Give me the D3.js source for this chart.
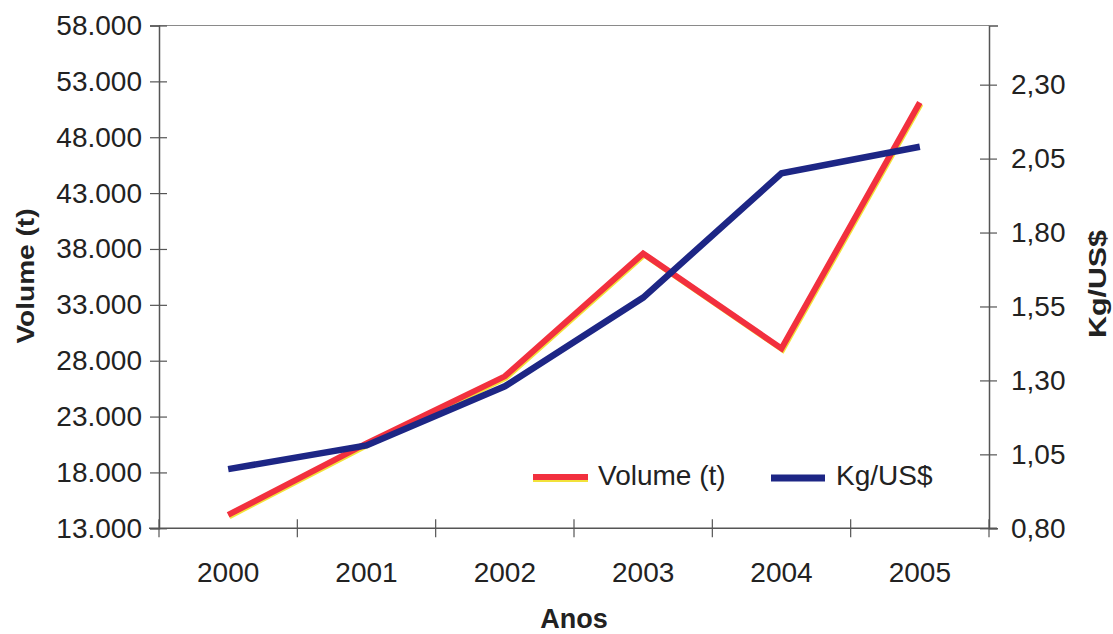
<!DOCTYPE html>
<html>
<head>
<meta charset="utf-8">
<script src="https://cdn.jsdelivr.net/npm/d3@7"></script>
<style>
  html, body { margin: 0; padding: 0; background: #fff; }
  svg { display: block; }
  text { font-family: "Liberation Sans", Arial, sans-serif; fill: #222; }
</style>
</head>
<body>
<svg id="chart" width="1113" height="634"></svg>
<script>
const years = ["2000", "2001", "2002", "2003", "2004", "2005"];
const volume = [14200, 20600, 26600, 37600, 29100, 51100];
const kgPerUsd = [1.00, 1.08, 1.28, 1.58, 2.00, 2.09];
const leftTicks = [13000, 18000, 23000, 28000, 33000, 38000, 43000, 48000, 53000, 58000];
const leftTickLabels = ["13.000", "18.000", "23.000", "28.000", "33.000", "38.000", "43.000", "48.000", "53.000", "58.000"];
const rightTicks = [0.80, 1.05, 1.30, 1.55, 1.80, 2.05, 2.30];
const rightTickLabels = ["0,80", "1,05", "1,30", "1,55", "1,80", "2,05", "2,30"];
const seriesNames = ["Volume (t)", "Kg/US$"];

const svg = d3.select("#chart");
const L = 159, R = 989, T = 25.5, B = 528.3;
const axisColor = "#555";

const x = d3.scaleBand().domain(years).range([L, R]);
const yL = d3.scaleLinear().domain([13000, 58000]).range([B, T]);
const yR = d3.scaleLinear().domain([0.80, 2.50]).range([B, T]);

// top border
svg.append("line").attr("x1", L).attr("x2", R).attr("y1", T).attr("y2", T)
  .attr("stroke", "#8a8a8a").attr("stroke-width", 1.2);

// left axis
const gL = svg.append("g").attr("transform", `translate(${L},0)`)
  .call(d3.axisLeft(yL).tickValues(leftTicks).tickSize(9).tickPadding(8)
    .tickFormat((d, i) => leftTickLabels[i]));
gL.select(".domain").attr("stroke", axisColor).attr("stroke-width", 1.5);
gL.selectAll(".tick line").attr("x1", 8).attr("x2", -9).attr("stroke", axisColor).attr("stroke-width", 1.2);
gL.selectAll(".tick text").style("font-size", "28px").attr("x", -17).attr("fill", "#222")
  .style("font-family", "Liberation Sans, Arial, sans-serif");

// right axis
const gR = svg.append("g").attr("transform", `translate(${R},0)`)
  .call(d3.axisRight(yR).tickValues(rightTicks).tickSize(9)
    .tickFormat((d, i) => rightTickLabels[i]));
gR.select(".domain").attr("stroke", axisColor).attr("stroke-width", 1.5);
gR.selectAll(".tick line").attr("x1", -9).attr("x2", 8).attr("stroke", axisColor).attr("stroke-width", 1.2);
gR.selectAll(".tick text").style("font-size", "28px").attr("x", 22).attr("fill", "#222")
  .style("font-family", "Liberation Sans, Arial, sans-serif");

// bottom axis
const gB = svg.append("g").attr("transform", `translate(0,${B})`)
  .call(d3.axisBottom(x).tickSize(0).tickPadding(0));
gB.select(".domain").attr("stroke", axisColor).attr("stroke-width", 1.5)
  .attr("d", `M${L - 10},0H${R + 8}`);
gB.selectAll(".tick text").style("font-size", "28px").attr("y", 54).attr("dy", null).attr("fill", "#222")
  .style("font-family", "Liberation Sans, Arial, sans-serif");
// boundary ticks between categories
const bounds = years.map(y => x(y)).concat([x(years[years.length - 1]) + x.bandwidth()]);
svg.append("g").selectAll("line").data(bounds).join("line")
  .attr("x1", d => d).attr("x2", d => d).attr("y1", B - 9).attr("y2", B + 9)
  .attr("stroke", axisColor).attr("stroke-width", 1.2);

// lines
const cx = d => x(d) + x.bandwidth() / 2;
const lineVol = d3.line().x((d, i) => cx(years[i])).y(d => yL(d));
const lineKg = d3.line().x((d, i) => cx(years[i])).y(d => yR(d));

svg.append("path").datum(volume).attr("d", lineVol).attr("fill", "none")
  .attr("stroke", "#f2e23a").attr("stroke-width", 5).attr("transform", "translate(1.2,1.8)")
  .attr("stroke-linejoin", "miter");
svg.append("path").datum(volume).attr("d", lineVol).attr("fill", "none")
  .attr("stroke", "#f2303e").attr("stroke-width", 6).attr("stroke-linejoin", "miter");
svg.append("path").datum(kgPerUsd).attr("d", lineKg).attr("fill", "none")
  .attr("stroke", "#1d2685").attr("stroke-width", 6.5).attr("stroke-linejoin", "miter");

// legend
const lg = svg.append("g");
lg.append("line").attr("x1", 533).attr("x2", 588).attr("y1", 479).attr("y2", 479)
  .attr("stroke", "#f2e23a").attr("stroke-width", 6);
lg.append("line").attr("x1", 533).attr("x2", 588).attr("y1", 477).attr("y2", 477)
  .attr("stroke", "#f2303e").attr("stroke-width", 6);
lg.append("text").attr("x", 598).attr("y", 485).style("font-size", "28px").text(seriesNames[0]);
lg.append("line").attr("x1", 771).attr("x2", 825).attr("y1", 478).attr("y2", 478)
  .attr("stroke", "#1d2685").attr("stroke-width", 7);
lg.append("text").attr("x", 836).attr("y", 485).style("font-size", "28px").text(seriesNames[1]);

// axis titles
svg.append("text").attr("x", (L + R) / 2).attr("y", 628).attr("text-anchor", "middle")
  .style("font-size", "27px").style("font-weight", "bold").text("Anos");
svg.append("text").attr("transform", "translate(34,276) rotate(-90)").attr("text-anchor", "middle")
  .style("font-size", "24px").style("font-weight", "bold")
  .attr("textLength", 135).attr("lengthAdjust", "spacingAndGlyphs").text("Volume (t)");
svg.append("text").attr("transform", "translate(1106,284) rotate(-90)").attr("text-anchor", "middle")
  .style("font-size", "24px").style("font-weight", "bold")
  .attr("textLength", 108).attr("lengthAdjust", "spacingAndGlyphs").text("Kg/US$");
</script>
</body>
</html>
